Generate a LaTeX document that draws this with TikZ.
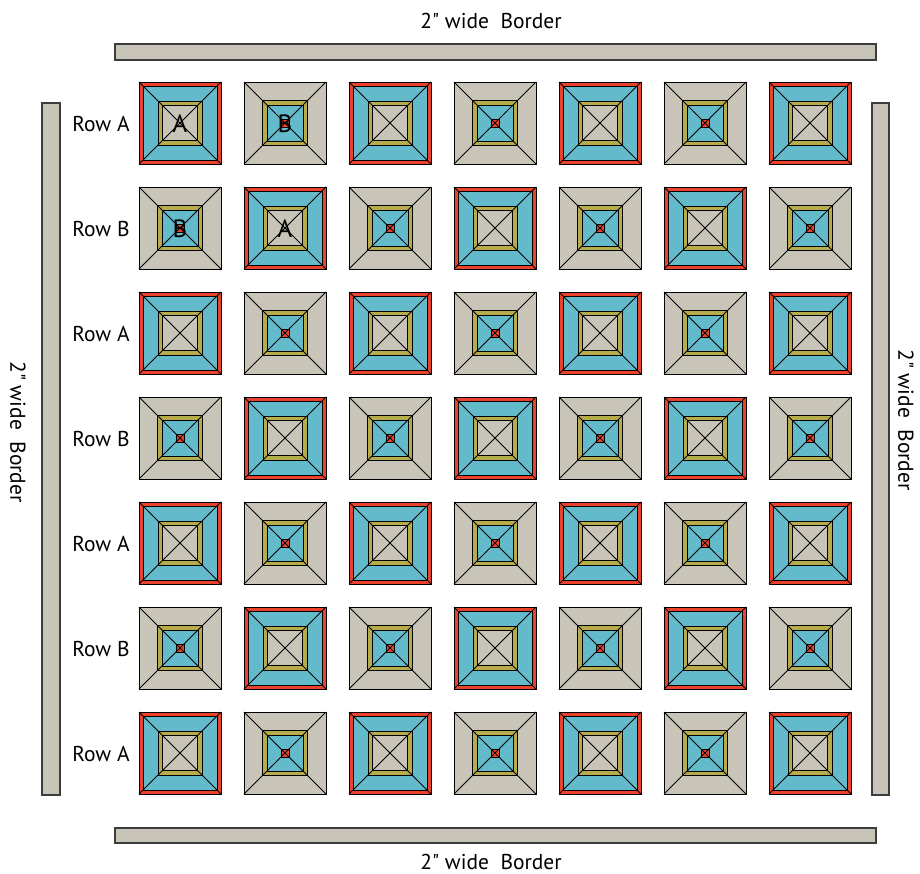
\documentclass[tikz,border=0pt]{standalone}
\usepackage{fontspec}
\newfontfamily\ptsans{PT Sans}
\definecolor{qred}{RGB}{236,66,44}
\definecolor{qblue}{RGB}{99,186,203}
\definecolor{qolive}{RGB}{182,172,76}
\definecolor{qbeige}{RGB}{200,197,184}
\definecolor{qedge}{RGB}{60,60,60}
\tikzset{
  ln/.style={draw=black, line width=0.8pt},
  bar/.style={fill=qbeige, draw=qedge, line width=1.3pt},
  lab/.style={font=\ptsans\fontsize{21.5}{23}\selectfont, inner sep=0pt},
  letter/.style={font=\ptsans\fontsize{25}{27}\selectfont, inner sep=0pt},
  blockA/.pic={
    \fill[qred] (-41,-41) rectangle (41,41);
    \fill[qblue] (-37,-37) rectangle (37,37);
    \fill[qolive] (-22,-22) rectangle (22,22);
    \fill[qbeige] (-17.5,-17.5) rectangle (17.5,17.5);
    \draw[ln] (-41,-41) rectangle (41,41);
    \draw[ln] (-37,-37) rectangle (37,37);
    \draw[ln] (-22,-22) rectangle (22,22);
    \draw[ln] (-17.5,-17.5) rectangle (17.5,17.5);
    \draw[ln] (-41,-41) -- (41,41) (-41,41) -- (41,-41);
  },
  blockB/.pic={
    \fill[qbeige] (-41,-41) rectangle (41,41);
    \fill[qolive] (-22.5,-22.5) rectangle (22.5,22.5);
    \fill[qblue] (-18,-18) rectangle (18,18);
    \fill[qred] (-4,-4) rectangle (4,4);
    \draw[ln] (-41,-41) rectangle (41,41);
    \draw[ln] (-22.5,-22.5) rectangle (22.5,22.5);
    \draw[ln] (-18,-18) rectangle (18,18);
    \draw[ln] (-4,-4) rectangle (4,4);
    \draw[ln] (-41,-41) -- (41,41) (-41,41) -- (41,-41);
  }
}
\begin{document}
\begin{tikzpicture}[x=1pt,y=-1pt]
\useasboundingbox (0,0) rectangle (920,874);
% borders
\draw[bar] (115,44) rectangle (876,60);
\draw[bar] (115,828) rectangle (876,843);
\draw[bar] (42,103) rectangle (60,795);
\draw[bar] (872,103) rectangle (889,795);
\node[lab] (ttop) at (491,21) {2" wide\ \ Border};
\node[lab] (tbot) at (491,862) {2" wide\ \ Border};
\node[lab, rotate=-90] (tleft) at (18,432) {2" wide\ \ Border};
\node[lab, rotate=-90] (tright) at (906,420) {2" wide\ \ Border};
% blocks
\foreach \j in {0,...,6}{
  \foreach \i in {0,...,6}{
    \pgfmathtruncatemacro{\pp}{mod(\i+\j,2)}
    \ifnum\pp=0
      \pic at ({180+105*\i},{123+105*\j}) {blockA};
    \else
      \pic at ({180+105*\i},{123+105*\j}) {blockB};
    \fi
  }
  \pgfmathtruncatemacro{\rp}{mod(\j,2)}
  \ifnum\rp=0
    \node[lab] (row\j) at (101,{124+105*\j}) {Row A};
  \else
    \node[lab] (row\j) at (101,{124+105*\j}) {Row B};
  \fi
}
\node[letter] (la1) at (180,124) {A};
\node[letter] (lb1) at (285,124) {B};
\node[letter] (lb2) at (180,229) {B};
\node[letter] (la2) at (285,229) {A};
\end{tikzpicture}
\end{document}
